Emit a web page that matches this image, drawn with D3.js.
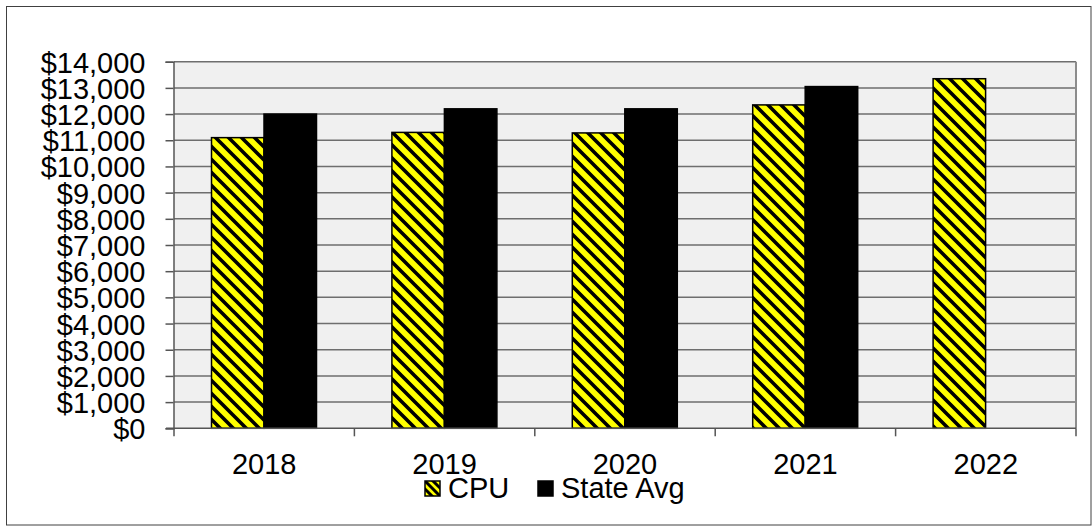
<!DOCTYPE html>
<html>
<head>
<meta charset="utf-8">
<script src="https://cdn.jsdelivr.net/npm/d3@7"></script>
<style>
  html, body { margin: 0; padding: 0; background: #fff; }
  svg { display: block; }
  text { font-family: "Liberation Sans", Arial, sans-serif; fill: #000; }
</style>
</head>
<body>
<svg id="chart" width="1092" height="526"></svg>
<script>
// Per-student spending by year
const years = ["2018", "2019", "2020", "2021", "2022"];
const cpuValues = [11100, 11300, 11280, 12350, 13350];
const stateAvgValues = [12000, 12200, 12200, 13050, null];
const yTicks = [0, 1000, 2000, 3000, 4000, 5000, 6000, 7000, 8000, 9000, 10000, 11000, 12000, 13000, 14000];
const seriesNames = ["CPU", "State Avg"];

const svg = d3.select("#chart");
const W = 1092, H = 526;

// outer frame
svg.append("rect")
  .attr("x", 6.5).attr("y", 6.5)
  .attr("width", W - 7.5).attr("height", H - 7.5)
  .attr("fill", "#fff").attr("stroke", "#404040").attr("stroke-width", 1);

const plot = { left: 174, right: 1076, top: 61.7, bottom: 428.3 };

const x = d3.scaleBand().domain(years).range([plot.left, plot.right]).paddingInner(0).paddingOuter(0);
const y = d3.scaleLinear().domain([0, 14000]).range([plot.bottom, plot.top]);

// diagonal stripe fill for CPU bars
const defs = svg.append("defs");
const P = 13;
const pat = defs.append("pattern")
  .attr("id", "stripes")
  .attr("patternUnits", "userSpaceOnUse")
  .attr("width", P).attr("height", P);
pat.append("rect").attr("width", P).attr("height", P).attr("fill", "#ffff00");
pat.append("path")
  .attr("d", `M-3,-3 L${P + 3},${P + 3} M${-P - 3},-3 L3,${P + 3} M${P - 3},-3 L${2 * P + 3},${P + 3}`)
  .attr("stroke", "#000").attr("stroke-width", 3.6);

const patSmall = defs.append("pattern")
  .attr("id", "stripesLegend")
  .attr("patternUnits", "objectBoundingBox")
  .attr("width", 1).attr("height", 1);
patSmall.append("rect").attr("width", 16).attr("height", 16).attr("fill", "#ffff00");
patSmall.append("path")
  .attr("d", "M-4,-4 L20,20 M-12,-4 L12,20 M4,-4 L28,20")
  .attr("stroke", "#000").attr("stroke-width", 3);

// plot background
svg.append("rect")
  .attr("x", plot.left).attr("y", plot.top)
  .attr("width", plot.right - plot.left).attr("height", plot.bottom - plot.top)
  .attr("fill", "#f0f0f0");

// gridlines
svg.append("g")
  .selectAll("line")
  .data(yTicks.filter(d => d > 0))
  .join("line")
  .attr("x1", plot.left).attr("x2", plot.right)
  .attr("y1", d => y(d)).attr("y2", d => y(d))
  .attr("stroke", "#6e6e6e").attr("stroke-width", 1.5);

// right border of plot area
svg.append("line")
  .attr("x1", plot.right).attr("x2", plot.right)
  .attr("y1", plot.top).attr("y2", plot.bottom)
  .attr("stroke", "#8c8c8c").attr("stroke-width", 2);

// bars
const groupOffset = 37.5;
const barW = 52.5;

svg.append("g")
  .selectAll("rect")
  .data(years.map((yr, i) => ({ yr, v: cpuValues[i] })))
  .join("rect")
  .attr("x", d => x(d.yr) + groupOffset)
  .attr("y", d => y(d.v))
  .attr("width", barW)
  .attr("height", d => y(0) - y(d.v))
  .attr("fill", "url(#stripes)")
  .attr("stroke", "#000").attr("stroke-width", 1.5);

svg.append("g")
  .selectAll("rect")
  .data(years.map((yr, i) => ({ yr, v: stateAvgValues[i] })).filter(d => d.v != null))
  .join("rect")
  .attr("x", d => x(d.yr) + groupOffset + barW)
  .attr("y", d => y(d.v))
  .attr("width", barW)
  .attr("height", d => y(0) - y(d.v))
  .attr("fill", "#000")
  .attr("stroke", "#000").attr("stroke-width", 1.5);

// y axis
const yAxis = d3.axisLeft(y)
  .tickValues(yTicks)
  .tickSize(8)
  .tickPadding(20)
  .tickFormat(d => "$" + d3.format(",")(d));
const gy = svg.append("g").attr("transform", `translate(${plot.left - 0.5},0)`).call(yAxis);
gy.select(".domain").attr("stroke", "#555").attr("stroke-width", 1.5);
gy.selectAll(".tick line").attr("stroke", "#555").attr("stroke-width", 1.5);
gy.selectAll(".tick text")
  .attr("font-size", 29)
  .attr("font-family", "Liberation Sans, Arial, sans-serif")
  .attr("fill", "#000")
  .attr("dy", "0.36em");

// x axis with ticks at category boundaries
const gx = svg.append("g").attr("transform", `translate(0,${plot.bottom})`);
gx.append("line")
  .attr("x1", plot.left - 8).attr("x2", plot.right)
  .attr("y1", 0).attr("y2", 0)
  .attr("stroke", "#555").attr("stroke-width", 1.5);
const bounds = years.map(yr => x(yr)).concat([plot.right]);
gx.selectAll("line.bound")
  .data(bounds)
  .join("line")
  .attr("class", "bound")
  .attr("x1", d => d).attr("x2", d => d)
  .attr("y1", 0).attr("y2", 8)
  .attr("stroke", "#555").attr("stroke-width", 1.5);
gx.selectAll("text")
  .data(years)
  .join("text")
  .attr("x", d => x(d) + x.bandwidth() / 2)
  .attr("y", 46)
  .attr("text-anchor", "middle")
  .attr("font-size", 29)
  .text(d => d);

// legend
const legend = svg.append("g");
const legendItems = [
  { name: seriesNames[0], fill: "url(#stripesLegend)", x: 425 },
  { name: seriesNames[1], fill: "#000", x: 538 }
];
legendItems.forEach(it => {
  legend.append("rect")
    .attr("x", it.x).attr("y", 481)
    .attr("width", 15).attr("height", 15)
    .attr("fill", it.fill)
    .attr("stroke", "#000").attr("stroke-width", 1.5);
  legend.append("text")
    .attr("x", it.x + 23).attr("y", 498)
    .attr("font-size", 29)
    .text(it.name);
});
</script>
</body>
</html>
